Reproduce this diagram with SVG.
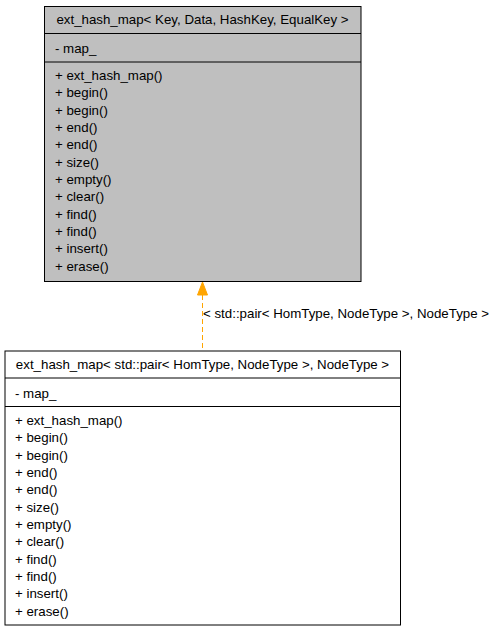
<svg xmlns="http://www.w3.org/2000/svg" width="496" height="632" viewBox="0 0 496 632">
<style>
  text { font-family: "Liberation Sans", Arial, sans-serif; font-size: 13.3px; fill: #000; }
  .box { stroke: #000; stroke-width: 1; }
  .sep { stroke: #000; stroke-width: 1; }
  .edge { stroke: #ffa500; stroke-width: 1; stroke-dasharray: 5,3; fill: none; }
</style>
<rect width="496" height="632" fill="#fff"/>
<g id="node-base">
  <rect class="box" x="44.5" y="6.5" width="316.5" height="275" fill="#bfbfbf"/>
  <line class="sep" x1="44.5" y1="33.5" x2="361" y2="33.5"/>
  <line class="sep" x1="44.5" y1="62" x2="361" y2="62"/>
  <text x="202.5" y="24" text-anchor="middle">ext_hash_map&lt; Key, Data, HashKey, EqualKey &gt;</text>
  <text x="55" y="53">- map_</text>
  <text x="55" y="80">+ ext_hash_map()</text>
  <text x="55" y="97.3">+ begin()</text>
  <text x="55" y="114.7">+ begin()</text>
  <text x="55" y="132">+ end()</text>
  <text x="55" y="149.3">+ end()</text>
  <text x="55" y="166.7">+ size()</text>
  <text x="55" y="184">+ empty()</text>
  <text x="55" y="201.3">+ clear()</text>
  <text x="55" y="218.7">+ find()</text>
  <text x="55" y="236">+ find()</text>
  <text x="55" y="253.3">+ insert()</text>
  <text x="55" y="270.7">+ erase()</text>
</g>
<g id="node-derived">
  <rect class="box" x="5" y="351" width="395.5" height="274" fill="#fff"/>
  <line class="sep" x1="5" y1="378" x2="400.5" y2="378"/>
  <line class="sep" x1="5" y1="406.5" x2="400.5" y2="406.5"/>
  <text x="202.5" y="368.5" text-anchor="middle">ext_hash_map&lt; std::pair&lt; HomType, NodeType &gt;, NodeType &gt;</text>
  <text x="15" y="398">- map_</text>
  <text x="15" y="425">+ ext_hash_map()</text>
  <text x="15" y="442.3">+ begin()</text>
  <text x="15" y="459.7">+ begin()</text>
  <text x="15" y="477">+ end()</text>
  <text x="15" y="494.3">+ end()</text>
  <text x="15" y="511.7">+ size()</text>
  <text x="15" y="529">+ empty()</text>
  <text x="15" y="546.3">+ clear()</text>
  <text x="15" y="563.7">+ find()</text>
  <text x="15" y="581">+ find()</text>
  <text x="15" y="598.3">+ insert()</text>
  <text x="15" y="615.7">+ erase()</text>
</g>
<g id="connectors">
  <line class="edge" x1="202.5" y1="295" x2="202.5" y2="351"/>
  <polygon points="202.5,282 197.5,295 207.5,295" fill="#ffa500" stroke="#ffa500" stroke-width="1"/>
  <text x="203" y="318">&lt; std::pair&lt; HomType, NodeType &gt;, NodeType &gt;</text>
</g>
</svg>
